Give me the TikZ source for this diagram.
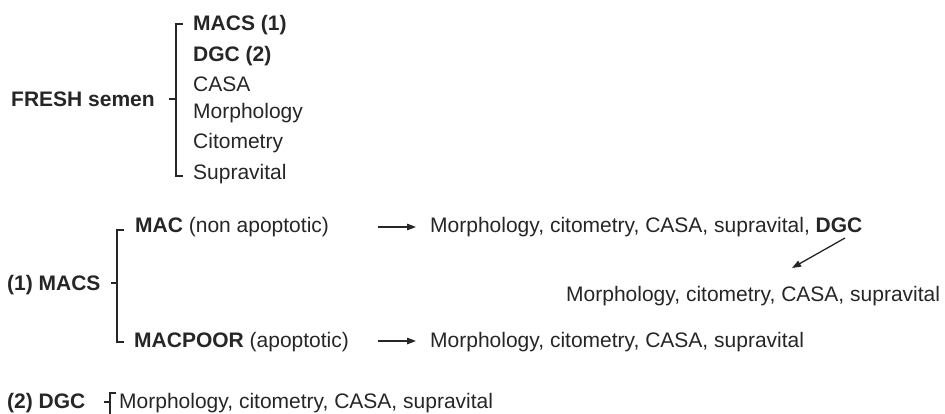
\documentclass[tikz,border=0pt]{standalone}
\usepackage{fontspec}
\setmainfont{Liberation Sans}
\usetikzlibrary{arrows.meta}
\begin{document}
\begin{tikzpicture}[x=1pt,y=-1pt,
  txt/.style={anchor=base west,inner sep=0pt,font=\fontsize{21}{25}\selectfont,text=black!85},
  brk/.style={line width=1.3pt,black!85},
  arr/.style={line width=1.3pt,black!85,-{Triangle[length=9pt,width=6.5pt]}}]
\useasboundingbox (0,0) rectangle (945,414);
% FRESH semen
\node[txt] (fresh) at (11,107) {\bfseries FRESH semen};
\node[txt] (f1) at (193,31) {\bfseries MACS (1)};
\node[txt] (f2) at (193,62) {\bfseries DGC (2)};
\node[txt] (f3) at (193,92) {CASA};
\node[txt] (f4) at (193,119) {Morphology};
\node[txt] (f5) at (193,149) {Citometry};
\node[txt] (f6) at (193,180) {Supravital};
\coordinate (ft) at (169,99);
\draw[brk] (ft) -- (176,99);
\draw[brk] (183,24) -- (176,24) -- (176,176) -- (183,176);
% MACS
\node[txt] (macs) at (7,290) {\bfseries (1) MACS};
\node[txt] (mac) at (135,233) {\textbf{MAC} (non apoptotic)};
\node[txt] (macpoor) at (134,347) {\textbf{MACPOOR} (apoptotic)};
\draw[brk] (111,283) -- (117,283);
\draw[brk] (124,230) -- (117,230) -- (117,342) -- (124,342);
\coordinate (a1s) at (378,227);
\coordinate (a2s) at (378,341);
\node[txt] (r1) at (430,233) {Morphology, citometry, CASA, supravital, \textbf{DGC}};
\node[txt] (r2) at (566,301) {Morphology, citometry, CASA, supravital};
\node[txt] (r3) at (430,347) {Morphology, citometry, CASA, supravital};
\draw[arr] (a1s) -- (416,227);
\draw[arr] (a2s) -- (416,341);
\draw[arr] (845,238) -- (792,268);
% DGC
\node[txt] (dgc) at (7,408) {\bfseries (2) DGC};
\node[txt] (d1) at (119,408) {Morphology, citometry, CASA, supravital};
\draw[brk] (104,402) -- (110,402);
\draw[brk] (116,393) -- (110,393) -- (110,416);
\end{tikzpicture}
\end{document}
